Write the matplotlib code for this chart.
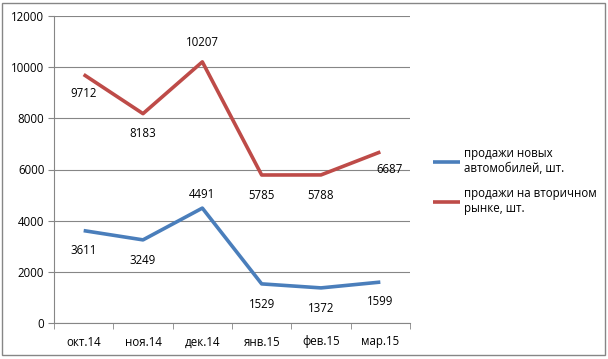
import numpy as np
import matplotlib.pyplot as plt
from matplotlib.patches import Rectangle

plt.rcParams['font.family'] = ['Open Sans', 'DejaVu Sans']

months = ['окт.14', 'ноя.14', 'дек.14', 'янв.15', 'фев.15', 'мар.15']
new_cars = [3611, 3249, 4491, 1529, 1372, 1599]
used_cars = [9712, 8183, 10207, 5785, 5788, 6687]
new_label = 'продажи новых\nавтомобилей, шт.'
used_label = 'продажи на вторичном\nрынке, шт.'

blue = '#4A7EBB'
red = '#BE4B48'
fs = 8.3

fig = plt.figure(figsize=(6.08, 3.59), dpi=100)
ax = fig.add_axes([54/608, 36/359, 356/608, 307/359])

x = np.arange(len(months))
ax.plot(x, new_cars, color=blue, lw=2.6, solid_capstyle='butt', label=new_label)
ax.plot(x, used_cars, color=red, lw=2.6, solid_capstyle='butt', label=used_label)

# data labels: offset in points (dx, dy)
used_off = [(0, -14), (0, -14), (0, 14), (0, -15), (0, -15), (7, -13)]
new_off = [(0, -14), (0, -15), (0, 10), (0, -15), (0, -15), (0, -14)]
for i, v in enumerate(used_cars):
    ax.annotate(str(v), (x[i], v), xytext=used_off[i], textcoords='offset points',
                ha='center', va='center', fontsize=fs)
for i, v in enumerate(new_cars):
    ax.annotate(str(v), (x[i], v), xytext=new_off[i], textcoords='offset points',
                ha='center', va='center', fontsize=fs)

ax.set_xlim(-0.5, len(months) - 0.5)
ax.set_ylim(0, 12000)
ax.set_yticks(np.arange(0, 12001, 2000))
ax.yaxis.grid(True, color='#868686', lw=0.8)
ax.set_axisbelow(True)
ax.set_xticks(x)
ax.set_xticklabels(months)
ax.set_xticks(np.arange(-0.5, len(months), 1), minor=True)
ax.tick_params(axis='x', which='major', length=0, pad=9, labelsize=fs)
ax.tick_params(axis='x', which='minor', length=4, color='#868686')
ax.tick_params(axis='y', length=4, color='#868686', labelsize=fs, pad=3)
for s in ['top', 'right']:
    ax.spines[s].set_visible(False)
for s in ['left', 'bottom']:
    ax.spines[s].set_color('#868686')
    ax.spines[s].set_linewidth(0.8)

fig.legend(loc='upper left', bbox_to_anchor=(428/608, 1 - 142/359), frameon=False,
           fontsize=fs, handlelength=2.4, handletextpad=0.3, labelspacing=1.1,
           borderaxespad=0)

fig.patches.append(Rectangle((2/608, 4/359), 603/608, 352/359, transform=fig.transFigure,
                             fill=False, edgecolor='#868686', lw=1))

fig.savefig('out.png', dpi=100)
